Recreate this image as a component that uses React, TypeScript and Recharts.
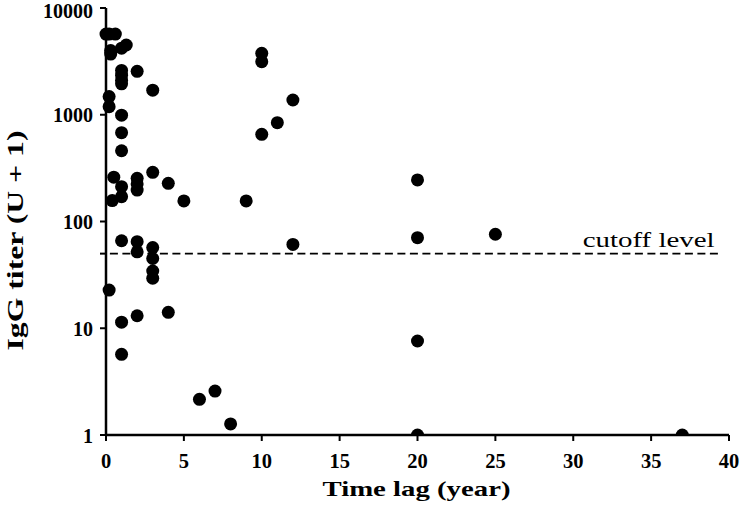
import React from 'react';
import { ScatterChart, Scatter, XAxis, YAxis, ReferenceLine, Label } from 'recharts';

// Time lag (year) of each subject
const timeLag = [
  0, 0.2, 0.6, 0.3, 0.3, 1, 1.3, 1, 1, 1, 1, 2, 3, 0.2, 0.2, 1, 1, 1,
  0.5, 1, 1, 0.4, 2, 2, 2, 3, 4, 5, 9, 10, 10, 10, 11, 12, 20, 20, 25, 12,
  20, 8, 20, 37, 1, 2, 2, 3, 3, 3, 3, 0.2, 1, 2, 4, 1, 6, 7,
];
// IgG titer (U + 1) of each subject
const titer = [
  5700, 5700, 5700, 4000, 3700, 4200, 4500, 2600, 2350, 2100, 1950, 2550, 1700, 1480, 1190, 990, 680, 460,
  260, 212, 171, 157, 254, 225, 197, 289, 228, 156, 156, 3760, 3140, 656, 843, 1374, 245, 70.5, 76, 61,
  7.6, 1.27, 1, 1, 66, 64.7, 52, 57, 45, 34.4, 29.4, 22.8, 11.4, 13.1, 14.1, 5.7, 2.16, 2.58,
];

const xTicks = [0, 5, 10, 15, 20, 25, 30, 35, 40];
const yTicks = [1, 10, 50, 100, 1000, 10000];
const yTickLabels = ['1', '10', '', '100', '1000', '10000'];
const cutoffLevel = 50;
const cutoffStart = 0.25;
const cutoffEnd = 39.4;

const data = timeLag.map((x, i) => ({ x, y: titer[i] }));

const FONT = '"Liberation Serif", "Times New Roman", Times, serif';
const bold: React.CSSProperties = { fontFamily: FONT, fontWeight: 700 };
const normal: React.CSSProperties = { fontFamily: FONT, fontWeight: 400 };

const XTick = (props: any) => {
  const { x, y, payload } = props;
  return (
    <text x={x} y={y + 25} textAnchor="middle" style={{ ...bold, fontSize: 20.5 }} fill="#000">
      {payload.value}
    </text>
  );
};

const YTick = (props: any) => {
  const { x, y, payload } = props;
  const idx = yTicks.indexOf(payload.value);
  const label = idx >= 0 ? yTickLabels[idx] : String(payload.value);
  if (!label) return <g />;
  const base = Math.max(y + 7.5, 18);
  return (
    <text x={x - 5} y={base} textAnchor="end" style={{ ...bold, fontSize: 20 }} fill="#000">
      {label}
    </text>
  );
};

const XLabel = (props: any) => {
  const vb = props.viewBox || {};
  const cx = vb.x + vb.width / 2 - 1;
  return (
    <text x={cx} y={vb.y + 61} textAnchor="middle" style={{ ...bold, fontSize: 22 }}
      textLength={188} lengthAdjust="spacingAndGlyphs" fill="#000">
      Time lag (year)
    </text>
  );
};

const YLabel = (props: any) => {
  const vb = props.viewBox || {};
  const x = vb.x + 22.5;
  const y = vb.y + vb.height / 2 + 19;
  return (
    <text x={x} y={y} transform={`rotate(-90, ${x}, ${y})`} textAnchor="middle" style={{ ...bold, fontSize: 23 }}
      textLength={220} lengthAdjust="spacingAndGlyphs" fill="#000">
      IgG titer (U + 1)
    </text>
  );
};

const CutoffLabel = (props: any) => {
  const vb = props.viewBox || {};
  const right = vb.x + vb.width - 5;
  return (
    <text x={right} y={vb.y - 6.3} textAnchor="end" style={{ ...normal, fontSize: 22 }}
      textLength={132} lengthAdjust="spacingAndGlyphs" fill="#000">
      cutoff level
    </text>
  );
};

const Dot = (props: any) => <circle cx={props.cx} cy={props.cy} r={6.5} fill="#000" />;

export default function App() {
  return (
    <div style={{ width: 740, height: 509 }}>
      <style>{'body{margin:0;}'}</style>
      <ScatterChart width={740} height={509} margin={{ top: 8, right: 11, bottom: 0, left: 0 }}>
        <XAxis
          dataKey="x"
          type="number"
          domain={[0, 40]}
          ticks={xTicks}
          interval={0}
          height={74}
          tickSize={6}
          axisLine={{ stroke: '#000', strokeWidth: 2.5 }}
          tickLine={{ stroke: '#000', strokeWidth: 2 }}
          tick={(p: any) => <XTick {...p} />}
        >
          <Label content={(p: any) => <XLabel {...p} />} />
        </XAxis>
        <YAxis
          dataKey="y"
          type="number"
          scale="log"
          domain={[1, 10000]}
          ticks={yTicks}
          interval={0}
          allowDataOverflow
          width={106}
          tickSize={6}
          axisLine={{ stroke: '#000', strokeWidth: 2.5 }}
          tickLine={{ stroke: '#000', strokeWidth: 2 }}
          tick={(p: any) => <YTick {...p} />}
        >
          <Label content={(p: any) => <YLabel {...p} />} />
        </YAxis>
        <ReferenceLine
          segment={[{ x: cutoffStart, y: cutoffLevel }, { x: cutoffEnd, y: cutoffLevel }]}
          stroke="#000"
          strokeWidth={1.6}
          strokeDasharray="8 4.5"
          ifOverflow="visible"
        >
          <Label content={(p: any) => <CutoffLabel {...p} />} />
        </ReferenceLine>
        <Scatter data={data} shape={(p: any) => <Dot {...p} />} isAnimationActive={false} />
      </ScatterChart>
    </div>
  );
}
